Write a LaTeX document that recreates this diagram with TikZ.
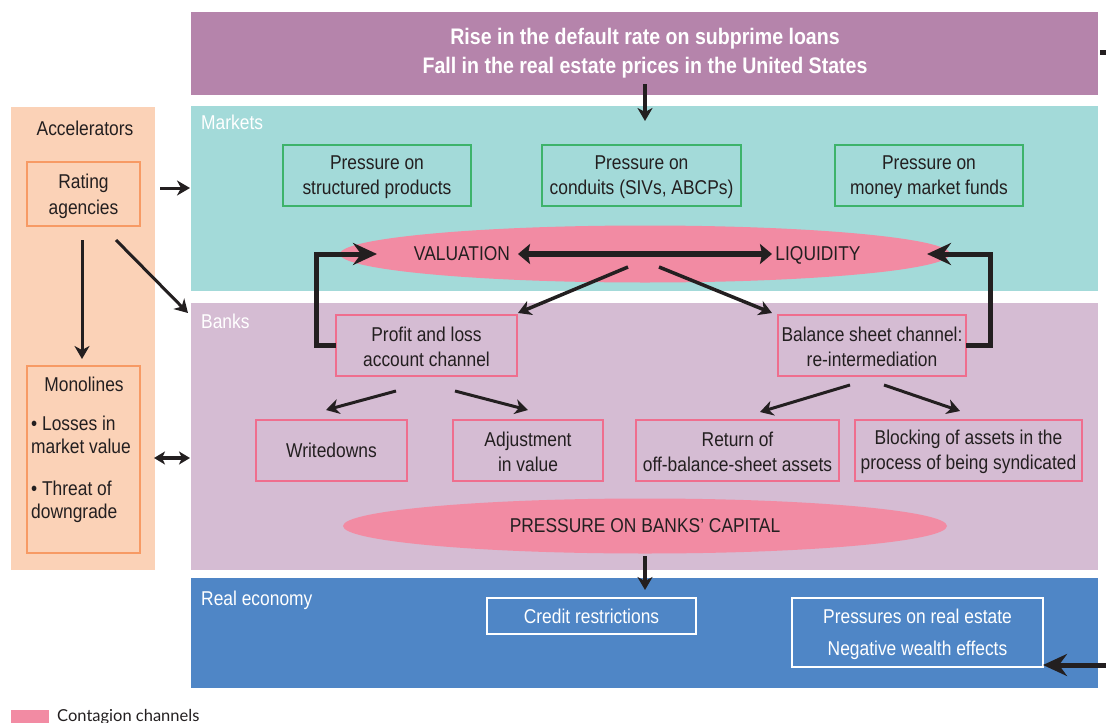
\documentclass[tikz,border=0pt]{standalone}
\usepackage{fontspec}
\setmainfont[FakeStretch=0.87]{Liberation Sans}
\newfontfamily\legfont{Lato}
\usetikzlibrary{arrows.meta,shapes.geometric}
\definecolor{toppurple}{HTML}{B584AB}
\definecolor{mteal}{HTML}{A3DAD9}
\definecolor{bankc}{HTML}{D5BCD3}
\definecolor{realc}{HTML}{4F86C6}
\definecolor{peach}{HTML}{FBD2B7}
\definecolor{pinkc}{HTML}{F28BA3}
\definecolor{greenb}{HTML}{3DB36B}
\definecolor{pinkb}{HTML}{EF6E8E}
\definecolor{orangeb}{HTML}{F79A64}
\definecolor{txtc}{HTML}{231F20}
\tikzset{
  panel/.style={inner sep=0pt, outer sep=0pt, draw=none, anchor=north west},
  txt/.style={font=\fontsize{20}{25}\selectfont, text=txtc, align=center, inner sep=0pt},
  wtxt/.style={font=\fontsize{20}{25}\selectfont, text=white, inner sep=0pt},
  boxlab/.style={label={[txt, yshift=-1.5pt]center:{#1}}},
  gbox/.style={draw=greenb, line width=1.2pt, fill=none, inner sep=0pt, outer sep=0pt, txt},
  pbox/.style={draw=pinkb, line width=1.2pt, fill=none, inner sep=0pt, outer sep=0pt, txt},
  obox/.style={draw=orangeb, line width=1.2pt, fill=none, inner sep=0pt, outer sep=0pt, txt},
  wbox/.style={draw=white, line width=1.4pt, fill=none, inner sep=0pt, outer sep=0pt, wtxt, align=center},
  ell/.style={ellipse, fill=pinkc, draw=none, inner sep=0pt},
  arrA/.style={draw=txtc, line width=3.5pt, -{Stealth[length=13pt, width=15pt, inset=4pt]}},
  arrB/.style={draw=txtc, line width=5pt, -{Stealth[length=24pt, width=22pt, inset=8pt]}},
  arrD/.style={draw=txtc, line width=6.5pt, {Stealth[length=12pt, width=20pt, inset=2pt]}-{Stealth[length=12pt, width=20pt, inset=2pt]}},
  arrS/.style={draw=txtc, line width=3.5pt, {Stealth[length=11pt, width=13pt, inset=3pt]}-{Stealth[length=11pt, width=13pt, inset=3pt]}},
}
\begin{document}
\begin{tikzpicture}[x=1pt,y=-1pt]
\useasboundingbox (0,0) rectangle (1106,723);
% panels
\node[panel, fill=toppurple, minimum width=907pt, minimum height=83pt] (top) at (191,12) {};
\node[panel, fill=mteal, minimum width=907pt, minimum height=185pt] (mk) at (191,106) {};
\node[panel, fill=bankc, minimum width=907pt, minimum height=267pt] (bk) at (191,303) {};
\node[panel, fill=realc, minimum width=907pt, minimum height=110pt] (re) at (191,578) {};
\node[panel, fill=peach, minimum width=144pt, minimum height=463pt] (acc) at (11,107) {};
% title
\node[font=\bfseries\fontsize{22.5}{29}\selectfont, text=white, align=center, inner sep=0pt] (title) at (645,53.5) {Rise in the default rate on subprime loans\\Fall in the real estate prices in the United States};
\fill[txtc] (1100,50) rectangle (1106,55);
% section labels
\node[wtxt, anchor=west] (lmk) at (201,122) {Markets};
\node[wtxt, anchor=west] (lbk) at (201,321) {Banks};
\node[wtxt, anchor=west] (lre) at (201,600) {Real economy};
\node[txt] (lacc) at (85,128) {Accelerators};
% market boxes
\node[gbox, minimum width=188pt, minimum height=61pt, boxlab={Pressure on\\structured products}] (sp) at (377,175.5) {};
\node[gbox, minimum width=199pt, minimum height=61pt, boxlab={Pressure on\\conduits (SIVs, ABCPs)}] (cd) at (641.5,175.5) {};
\node[gbox, minimum width=188pt, minimum height=61pt, boxlab={Pressure on\\money market funds}] (mm) at (929,175.5) {};
% valuation ellipse
\node[ell, minimum width=610pt, minimum height=57pt] (ve) at (645,254) {};
\node[txt] (val) at (462,254) {VALUATION};
\node[txt] (liq) at (818,255) {LIQUIDITY};
% bank boxes
\node[pbox, minimum width=181pt, minimum height=61pt, boxlab={Profit and loss\\account channel}] (pl) at (426.5,345.5) {};
\node[pbox, minimum width=188pt, minimum height=61pt, boxlab={Balance sheet channel:\\re-intermediation}] (bs) at (872,345.5) {};
\node[pbox, minimum width=151pt, minimum height=61pt] (wd) at (331.5,450.5) {Writedowns};
\node[pbox, minimum width=150pt, minimum height=61pt, boxlab={Adjustment\\in value}] (adj) at (528,450.5) {};
\node[pbox, minimum width=203pt, minimum height=61pt, boxlab={Return of\\off-balance-sheet assets}] (ret) at (737.5,450.5) {};
\node[pbox, minimum width=227pt, minimum height=61pt, boxlab={Blocking of assets in the\\process of being syndicated}] (blk) at (968.5,450.5) {};
% capital ellipse
\node[ell, minimum width=604pt, minimum height=55pt] (ce) at (645,526) {};
\node[txt] (cap) at (645,526) {PRESSURE ON BANKS’ CAPITAL};
% real economy boxes
\node[wbox, minimum width=209pt, minimum height=36pt] (cr) at (591.5,616) {Credit restrictions};
\node[wbox, minimum width=251pt, minimum height=69pt] (pr) at (917.5,632.5) {};
\node[wtxt, align=center, font=\fontsize{20}{32}\selectfont] (prt) at (917.5,634.5) {Pressures on real estate\\Negative wealth effects};
% accelerator boxes
\node[obox, minimum width=113pt, minimum height=64pt] (ra) at (83.5,194) {};
\node[txt, font=\fontsize{20}{26}\selectfont] (rat) at (83.5,196) {Rating\\agencies};
\node[obox, minimum width=113pt, minimum height=187pt] (mo) at (83.5,459.5) {};
\node[txt] (mot) at (84,384) {Monolines};
\node[txt, align=left, anchor=north west, font=\fontsize{20}{23}\selectfont] (mol) at (31,416) {• Losses in\\market value\\[19pt]• Threat of\\downgrade};
% coordinates
\coordinate (t1) at (645,84);
\coordinate (t2) at (645,121);
\coordinate (dl) at (518,254);
\coordinate (dr) at (772,254);
\coordinate (vtip) at (377,254);
\coordinate (ltip) at (927,254);
\coordinate (e1) at (628,267);
\coordinate (e1b) at (518,313);
\coordinate (e2) at (659,267);
\coordinate (e2b) at (772,313);
\coordinate (p1) at (396,391);
\coordinate (p1b) at (326,410);
\coordinate (p2) at (455,391);
\coordinate (p2b) at (528,410);
\coordinate (b1) at (850,385);
\coordinate (b1b) at (760,412);
\coordinate (b2) at (884,385);
\coordinate (b2b) at (960,411);
\coordinate (c1) at (645,556);
\coordinate (c2) at (645,590);
\coordinate (rin) at (1106,665);
\coordinate (a1) at (160,188);
\coordinate (a1b) at (190,188);
\coordinate (a2) at (82,240);
\coordinate (a2b) at (82,359);
\coordinate (a3) at (116,240);
\coordinate (a3b) at (188,313);
\coordinate (m1) at (154,458);
\coordinate (m2) at (190,458);
% connectors
\draw[arrA] (t1) -- (t2);
\draw[arrD] (dl) -- (dr);
\draw[arrB, line join=miter] (pl.west) -- ++(-20,0) |- (vtip);
\draw[arrB, line join=miter] (bs.east) -- ++(24,0) |- (ltip);
\draw[arrA] (e1) -- (e1b);
\draw[arrA] (e2) -- (e2b);
\draw[arrA, line width=3pt] (p1) -- (p1b);
\draw[arrA, line width=3pt] (p2) -- (p2b);
\draw[arrA, line width=3pt] (b1) -- (b1b);
\draw[arrA, line width=3pt] (b2) -- (b2b);
\draw[arrA] (c1) -- (c2);
\draw[arrB] (rin) -- (pr.east |- rin);
\draw[arrA, line width=3pt] (a1) -- (a1b);
\draw[arrA, line width=3pt] (a2) -- (a2b);
\draw[arrA, line width=3pt] (a3) -- (a3b);
\draw[arrS] (m1) -- (m2);
% legend
\fill[pinkc] (11,710) rectangle (49,723);
\node[font=\legfont\fontsize{16.5}{18}\selectfont, text=txtc, anchor=west, inner sep=0pt] (leg) at (57,717) {Contagion channels};
\end{tikzpicture}
\end{document}
